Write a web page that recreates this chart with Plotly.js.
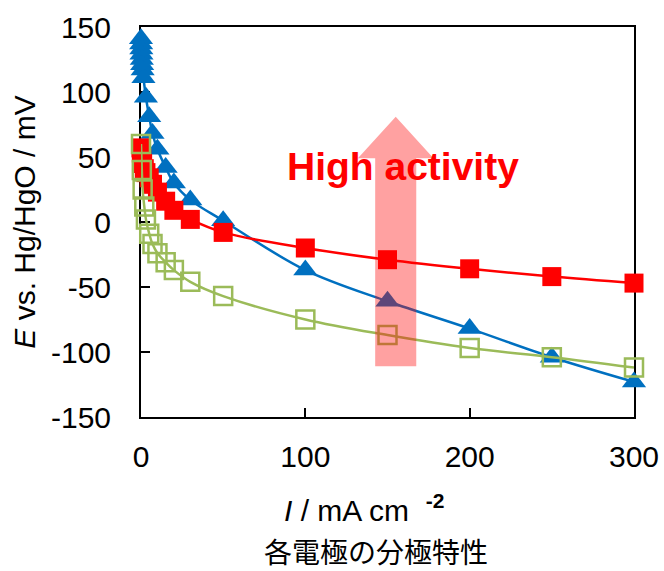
<!DOCTYPE html>
<html>
<head>
<meta charset="utf-8">
<script src="https://cdn.plot.ly/plotly-3.0.1.min.js"></script>
<style>
html,body{margin:0;padding:0;background:#ffffff;}
#chart{width:664px;height:571px;}
</style>
</head>
<body>
<div id="chart"></div>
<script>
// Electrode A (blue triangles)
const blueX = [0, 0.1, 0.2, 0.3, 0.5, 0.7, 1, 1.5, 3, 5, 7, 10, 15, 20, 30, 50, 100, 150, 200, 250, 300];
const blueY = [141, 137, 133, 129, 125, 121, 117, 111, 96, 81, 68, 56, 42, 30, 17, 1, -37, -61, -82, -104, -123];
// Electrode B (red squares)
const redX = [0, 0.2, 0.5, 1, 2, 3, 5, 7, 10, 15, 20, 30, 50, 100, 150, 200, 250, 300];
const redY = [57, 53, 49, 45, 41, 38, 34, 29, 23, 16, 9, 2, -8, -20, -29, -36, -42, -47];
// Electrode C (green open squares)
const greenX = [0, 0.5, 1, 2, 3, 5, 7, 10, 15, 20, 30, 50, 100, 150, 200, 250, 300];
const greenY = [60, 40, 25, 12, 2, -9, -17, -24, -31, -37, -46, -57, -75, -87, -97, -104, -112];

const xTicks = [0, 100, 200, 300];
const yTicks = [-150, -100, -50, 0, 50, 100, 150];

const xTitleText = '<i>I</i> / mA cm\u00a0\u00a0<sup><b>-2</b></sup>';
const yTitleText = '<i>E</i> vs. Hg/HgO / mV';
const arrowText = 'High activity';
const captionText = '各電極の分極特性';

// Arrow annotation geometry (data units)
const arrowCx = 155, arrowHalfShaft = 12.5, arrowHalfHead = 23;
const arrowBottom = -111, arrowHeadBase = 49, arrowTip = 81;

const FONT = 'Liberation Sans, Arial, sans-serif';

const traces = [
  {
    x: blueX, y: blueY, type: 'scatter', mode: 'lines+markers',
    line: {color: '#0070C0', width: 2.5, shape: 'spline', smoothing: 1},
    marker: {symbol: 'triangle-up', size: 21, color: '#0070C0', line: {width: 0}},
    cliponaxis: false, showlegend: false
  },
  {
    x: redX, y: redY, type: 'scatter', mode: 'lines+markers',
    line: {color: '#FF0000', width: 2.5, shape: 'spline', smoothing: 1},
    marker: {symbol: 'square', size: 19, color: '#FF0000', line: {width: 0}},
    cliponaxis: false, showlegend: false
  },
  {
    x: greenX, y: greenY, type: 'scatter', mode: 'lines+markers',
    line: {color: '#9BBB59', width: 2.5, shape: 'spline', smoothing: 1},
    marker: {symbol: 'square-open', size: 18, color: '#9BBB59', line: {width: 2.5, color: '#9BBB59'}},
    cliponaxis: false, showlegend: false
  }
];

const arrowPath = 'M ' + (arrowCx - arrowHalfShaft) + ' ' + arrowBottom +
  ' L ' + (arrowCx - arrowHalfShaft) + ' ' + arrowHeadBase +
  ' L ' + (arrowCx - arrowHalfHead) + ' ' + arrowHeadBase +
  ' L ' + arrowCx + ' ' + arrowTip +
  ' L ' + (arrowCx + arrowHalfHead) + ' ' + arrowHeadBase +
  ' L ' + (arrowCx + arrowHalfShaft) + ' ' + arrowHeadBase +
  ' L ' + (arrowCx + arrowHalfShaft) + ' ' + arrowBottom + ' Z';

const layout = {
  width: 664, height: 571,
  margin: {l: 141, r: 30, t: 27, b: 154},
  paper_bgcolor: '#ffffff', plot_bgcolor: '#ffffff',
  font: {family: FONT, color: '#000000', size: 30},
  showlegend: false,
  xaxis: {
    range: [0, 300], tickvals: xTicks, ticktext: xTicks.map(String),
    showgrid: false, zeroline: false,
    showline: true, linecolor: '#000000', linewidth: 2, mirror: true,
    ticks: 'inside', ticklen: 9, tickwidth: 2, tickcolor: '#000000',
    tickfont: {family: FONT, size: 30, color: '#000000'},
    ticklabelstandoff: 12,
    layer: 'below traces'
  },
  yaxis: {
    range: [-150, 150], tickvals: yTicks, ticktext: yTicks.map(String),
    showgrid: false, zeroline: false,
    showline: true, linecolor: '#000000', linewidth: 2, mirror: true,
    ticks: 'inside', ticklen: 9, tickwidth: 2, tickcolor: '#000000',
    tickfont: {family: FONT, size: 30, color: '#000000'},
    ticklabelstandoff: 22,
    layer: 'below traces',
    title: {text: yTitleText, font: {family: FONT, size: 30, color: '#000000'}, standoff: 6}
  },
  shapes: [
    {type: 'path', xref: 'x', yref: 'y', path: arrowPath,
     fillcolor: 'rgba(255,0,0,0.37)', line: {width: 0}, layer: 'above'}
  ],
  annotations: [
    {text: xTitleText, xref: 'paper', yref: 'paper', x: 0.452, y: -0.233,
     showarrow: false, xanchor: 'center', yanchor: 'middle',
     font: {family: FONT, size: 30, color: '#000000'}},
    {text: '<b>' + arrowText + '</b>', xref: 'x', yref: 'y', x: 159.5, y: 43,
     showarrow: false, xanchor: 'center', yanchor: 'middle',
     font: {family: FONT, size: 39, color: '#FF0000'}},
    {text: captionText, xref: 'paper', yref: 'paper', x: 0.4767, y: -0.343,
     showarrow: false, xanchor: 'center', yanchor: 'middle',
     font: {family: 'Noto Sans CJK JP, sans-serif', size: 28, color: '#000000'}}
  ]
};

Plotly.newPlot('chart', traces, layout, {displayModeBar: false, responsive: false});
</script>
</body>
</html>
